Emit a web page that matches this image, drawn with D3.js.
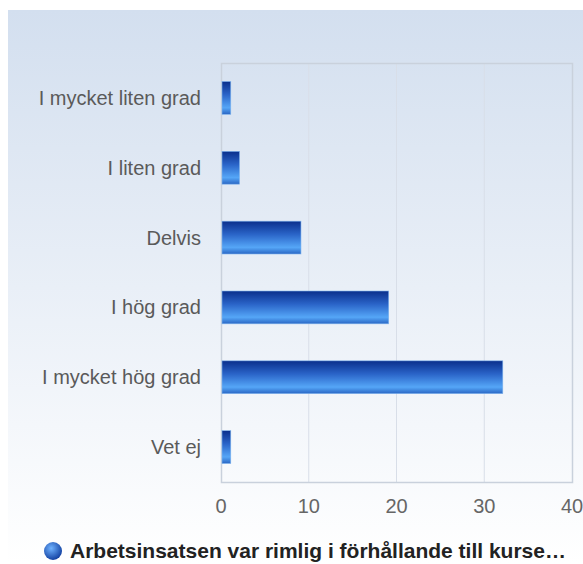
<!DOCTYPE html>
<html><head><meta charset="utf-8">
<script src="https://cdn.jsdelivr.net/npm/d3@7"></script>
<style>html,body{margin:0;padding:0;background:#fff;}svg{display:block;}</style>
</head><body>
<script>
const categories = ["I mycket liten grad","I liten grad","Delvis","I hög grad","I mycket hög grad","Vet ej"];
const values = [1,2,9,19,32,1];
const xTicks = [0,10,20,30,40];
const seriesName = "Arbetsinsatsen var rimlig i förhållande till kurse…";

const W = 583, H = 564;
const svg = d3.select("body").append("svg").attr("width", W).attr("height", H);
const defs = svg.append("defs");
const bg = defs.append("linearGradient").attr("id","bg").attr("x1",0).attr("y1",0).attr("x2",0).attr("y2",1);
bg.append("stop").attr("offset","0%").attr("stop-color","#d3dfef");
bg.append("stop").attr("offset","100%").attr("stop-color","#ffffff");
const bar = defs.append("linearGradient").attr("id","bar").attr("x1",0).attr("y1",0).attr("x2",0).attr("y2",1);
bar.append("stop").attr("offset","0%").attr("stop-color","#0a2f8c");
bar.append("stop").attr("offset","40%").attr("stop-color","#2a64c8");
bar.append("stop").attr("offset","80%").attr("stop-color","#55a6f7");
bar.append("stop").attr("offset","100%").attr("stop-color","#2a66c4");
const leg = defs.append("radialGradient").attr("id","leg").attr("cx","40%").attr("cy","35%").attr("r","70%");
leg.append("stop").attr("offset","0%").attr("stop-color","#6fb2ff");
leg.append("stop").attr("offset","100%").attr("stop-color","#0d3a9c");

svg.append("rect").attr("x",8).attr("y",10).attr("width",W-8).attr("height",H-10).attr("fill","url(#bg)");

const m = {left:221, right:572, top:63, bottom:482};
const x = d3.scaleLinear().domain([0,40]).range([m.left, m.right]);
const y = d3.scaleBand().domain(categories).range([m.top, m.bottom]).paddingInner(0.53).paddingOuter(0.265);

// gridlines
svg.append("g").selectAll("line").data(xTicks.slice(1,-1)).join("line")
  .attr("x1", d=>x(d)).attr("x2", d=>x(d)).attr("y1", m.top).attr("y2", m.bottom)
  .attr("stroke","#d8dee8").attr("stroke-width",1);
// plot border
svg.append("rect").attr("x",m.left+0.5).attr("y",m.top+0.5).attr("width",m.right-m.left).attr("height",m.bottom-m.top)
  .attr("fill","none").attr("stroke","#c9d1dc").attr("stroke-width",1.5);

// bars
svg.append("g").selectAll("rect").data(values).join("rect")
  .attr("x", x(0)+1).attr("y", (d,i)=>y(categories[i]))
  .attr("width", d=>x(d)-x(0)).attr("height", y.bandwidth())
  .attr("fill","url(#bar)").attr("stroke","#7fb4ee").attr("stroke-width",0.6);

// y labels
svg.append("g").selectAll("text").data(categories).join("text")
  .attr("x", 201).attr("y", d=>y(d)+y.bandwidth()/2).attr("dy","0.35em")
  .attr("text-anchor","end").attr("fill","#5a5a5a")
  .style("font-family","Liberation Sans, Arial, sans-serif").style("font-size","20px")
  .text(d=>d);

// x axis labels
svg.append("g").selectAll("text").data(xTicks).join("text")
  .attr("x", d=>x(d)).attr("y", 513).attr("text-anchor","middle").attr("fill","#666")
  .style("font-family","Liberation Sans, Arial, sans-serif").style("font-size","20px")
  .text(d=>d);

// legend
svg.append("circle").attr("cx",53).attr("cy",551).attr("r",9).attr("fill","url(#leg)");
svg.append("text").attr("x",70).attr("y",558).attr("fill","#222")
  .style("font-family","Liberation Sans, Arial, sans-serif").style("font-size","21px").style("font-weight","bold")
  .text(seriesName);
</script>
</body></html>
